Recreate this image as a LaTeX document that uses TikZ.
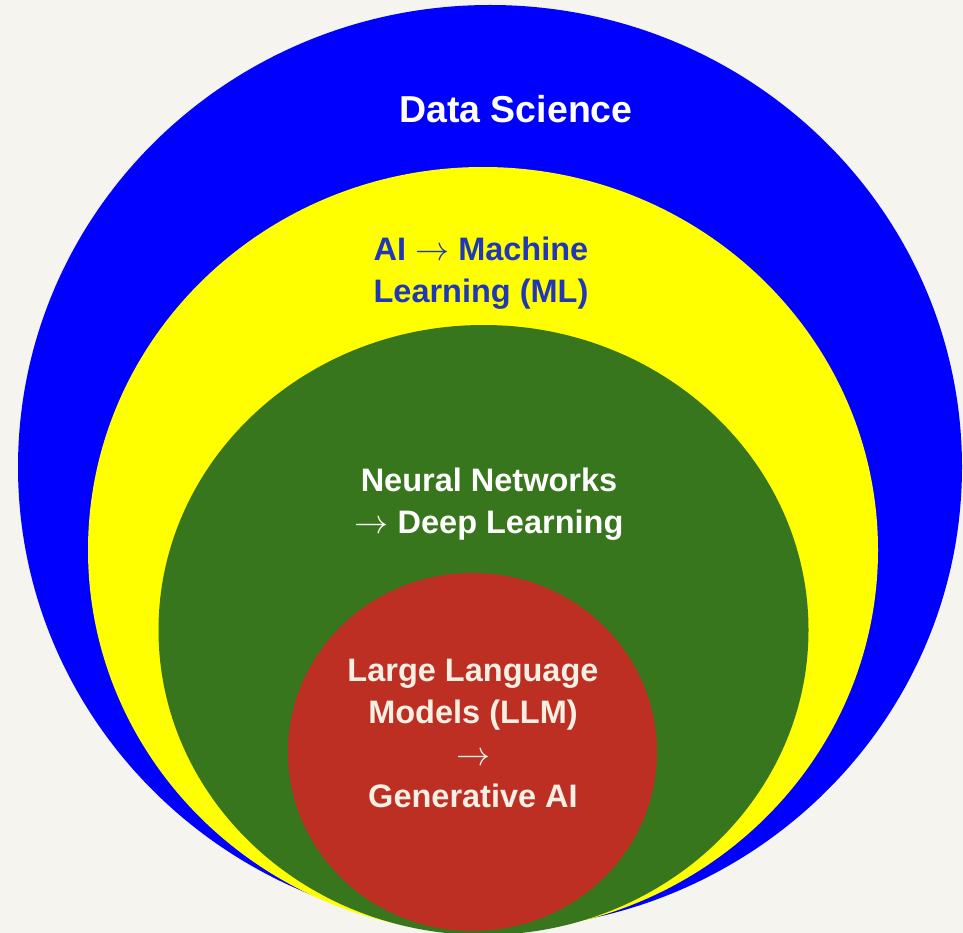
\documentclass[tikz,border=0pt]{standalone}
\usepackage{graphicx}
\usepackage{fontspec}
\setmainfont{Liberation Sans}
\definecolor{bgc}{HTML}{F5F4EE}
\definecolor{dsblue}{HTML}{0000FF}
\definecolor{mlyellow}{HTML}{FFFF00}
\definecolor{nngreen}{HTML}{38761D}
\definecolor{llmred}{HTML}{BD2F23}
\definecolor{mltext}{HTML}{2038B5}
\definecolor{llmtext}{HTML}{F5F0E3}
\newcommand{\arr}{\resizebox{34pt}{!}{\ensuremath{\rightarrow}}}
\begin{document}
\begin{tikzpicture}[x=1pt,y=-1pt,
  lbl/.style={inner sep=0pt, align=center, anchor=base, font=\bfseries\fontsize{32.5}{41.5}\selectfont}]
\useasboundingbox (0,0) rectangle (963,933);
\fill[bgc] (0,0) rectangle (963,933);
\clip (0,0) rectangle (963,933);
\fill[dsblue] (490,467) ellipse [x radius=472, y radius=462];
\fill[mlyellow] (483,550) ellipse [x radius=395, y radius=383];
\fill[nngreen] (483.5,630) ellipse [x radius=325, y radius=305];
\fill[llmred] (472.5,752) ellipse [x radius=184.5, y radius=179];
\node[lbl, white, font=\bfseries\fontsize{37.5}{45}\selectfont] (ds) at (516,123) {Data Science};
\node[lbl, mltext] (ml) at (481,302) {AI \arr{} Machine\\Learning (ML)};
\node[lbl, white] (nn) at (489,533) {Neural Networks\\\arr{} Deep Learning};
\node[lbl, llmtext, font=\bfseries\fontsize{32.5}{42}\selectfont] (llm) at (473,807) {Large Language\\Models (LLM)\\\arr\\Generative AI};
\end{tikzpicture}
\end{document}
